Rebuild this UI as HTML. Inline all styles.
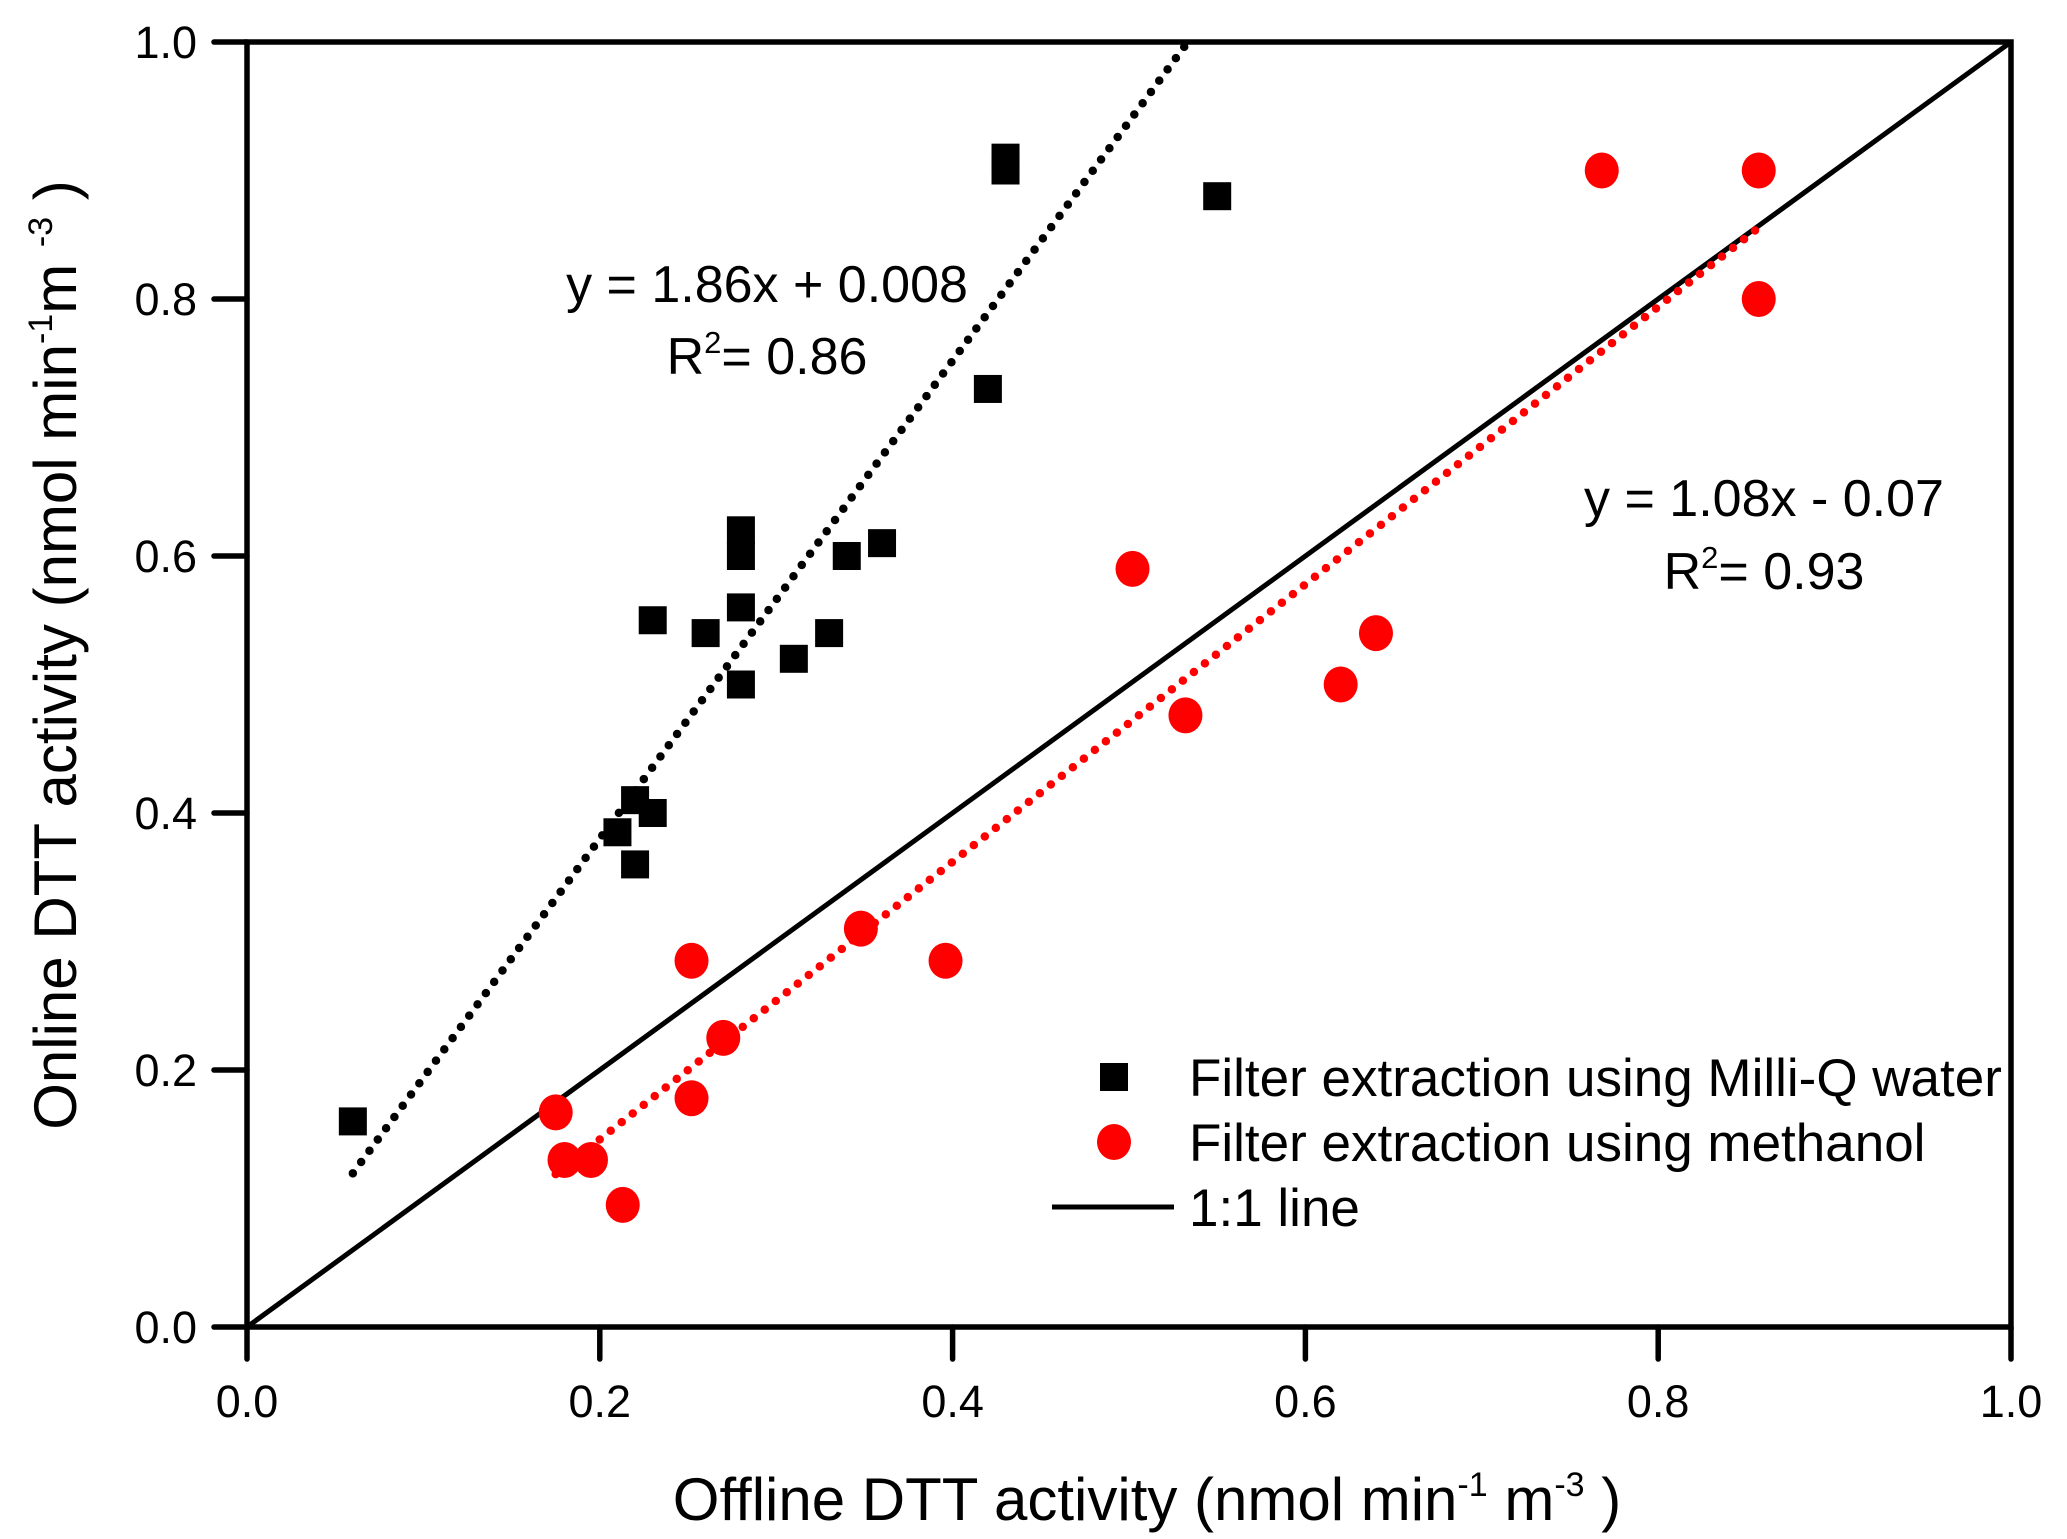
<!DOCTYPE html>
<html><head><meta charset="utf-8"><style>
html,body{margin:0;padding:0;background:#fff}
svg{display:block;font-family:"Liberation Sans",Arial,sans-serif}
</style></head><body>
<svg id="chart" width="2067" height="1539" viewBox="0 0 2067 1539">
<g id="axes"></g>
<g id="marks"></g>
<text x="767" y="302" font-size="52" text-anchor="middle">y = 1.86x + 0.008</text>
<text x="767" y="374" font-size="52" text-anchor="middle">R<tspan font-size="31" dy="-21">2</tspan><tspan dy="21">= 0.86</tspan></text>
<text x="1764" y="516" font-size="52" text-anchor="middle">y = 1.08x - 0.07</text>
<text x="1764" y="589" font-size="52" text-anchor="middle">R<tspan font-size="31" dy="-21">2</tspan><tspan dy="21">= 0.93</tspan></text>
<g>
<rect x="1100" y="1063" width="28" height="28" fill="#000"/>
<text x="1189" y="1096" font-size="53">Filter extraction using Milli-Q water</text>
<ellipse cx="1114" cy="1142" rx="17" ry="18" fill="#f00"/>
<text x="1189" y="1161" font-size="53">Filter extraction using methanol</text>
<line x1="1052" y1="1207" x2="1174" y2="1207" stroke="#000" stroke-width="5"/>
<text x="1189" y="1226" font-size="53">1:1 line</text>
</g>
<text x="1147" y="1520" font-size="60" text-anchor="middle">Offline DTT activity (nmol min<tspan font-size="34" dy="-24">-1</tspan><tspan dy="24"> m</tspan><tspan font-size="34" dy="-24">-3</tspan><tspan dy="24"> )</tspan></text>
<text transform="translate(76,655) rotate(-90)" font-size="60" text-anchor="middle">Online DTT activity (nmol min<tspan font-size="34" dy="-24">-1</tspan><tspan dy="24">m </tspan><tspan font-size="34" dy="-24">-3</tspan><tspan dy="24"> )</tspan></text>
</svg>
<script>
const waterX=[0.06,0.21,0.22,0.23,0.22,0.23,0.26,0.28,0.28,0.28,0.28,0.31,0.33,0.34,0.36,0.42,0.43,0.43,0.55];
const waterY=[0.16,0.385,0.41,0.40,0.36,0.55,0.54,0.62,0.60,0.56,0.50,0.52,0.54,0.60,0.61,0.73,0.91,0.90,0.88];
const methX=[0.175,0.18,0.195,0.213,0.252,0.252,0.27,0.348,0.396,0.502,0.532,0.62,0.64,0.768,0.857,0.857];
const methY=[0.167,0.13,0.13,0.095,0.285,0.178,0.225,0.31,0.285,0.59,0.476,0.50,0.54,0.90,0.90,0.80];
const waterFit=[1.86,0.008];
const methFit=[1.08,-0.07];
const ticks=[0,0.2,0.4,0.6,0.8,1.0];
const tickLabels=["0.0","0.2","0.4","0.6","0.8","1.0"];
const L=247,R=2011,T=42,B=1327;
const sx=v=>L+v*(R-L), sy=v=>B-v*(B-T);
const NS="http://www.w3.org/2000/svg";
function mk(tag,attrs,parent){const e=document.createElementNS(NS,tag);for(const k in attrs)e.setAttribute(k,attrs[k]);parent.appendChild(e);return e;}
const ax=document.getElementById('axes'), mg=document.getElementById('marks');
const frame=mk('rect',{x:L,y:T,width:R-L,height:B-T,fill:'none',stroke:'#000','stroke-width':5.5},ax);


ticks.forEach((t,i)=>{
 const a=mk('line',{x1:sx(t),y1:B,x2:sx(t),y2:B+32,stroke:'#000','stroke-width':5.5,'stroke-linecap':'round'},ax);
 
 
 const b=mk('line',{x1:L-33,y1:sy(t),x2:L,y2:sy(t),stroke:'#000','stroke-width':5.5,'stroke-linecap':'round'},ax);
 
 
 const tx=mk('text',{x:sx(t),y:B+90,'font-size':45,'text-anchor':'middle'},ax);tx.textContent=tickLabels[i];
 
 
 const ty=mk('text',{x:L-50,y:sy(t)+16,'font-size':45,'text-anchor':'end'},ax);ty.textContent=tickLabels[i];
 
 
});
const one=mk('line',{x1:sx(0),y1:sy(0),x2:sx(1),y2:sy(1),stroke:'#000','stroke-width':5},mg);


function fitLine(f,x0,x1,color,name){
 const p=mk('line',{x1:sx(x0),y1:sy(f[0]*x0+f[1]),x2:sx(x1),y2:sy(f[0]*x1+f[1]),stroke:color,'stroke-width':8.5,'stroke-dasharray':'0 14','stroke-linecap':'round'},mg);
 
 
}
fitLine(waterFit,Math.min(...waterX),(1-waterFit[1])/waterFit[0],'#000','water-fit-line');
fitLine(methFit,Math.min(...methX),Math.max(...methX),'#f00','methanol-fit-line');
waterX.forEach((x,i)=>{
 const r=mk('rect',{x:sx(x)-14,y:sy(waterY[i])-14,width:28,height:28,fill:'#000'},mg);
 
 
});
methX.forEach((x,i)=>{
 const c=mk('ellipse',{cx:sx(x),cy:sy(methY[i]),rx:17,ry:18,fill:'#f00'},mg);
 
 
});
</script>
</body></html>
